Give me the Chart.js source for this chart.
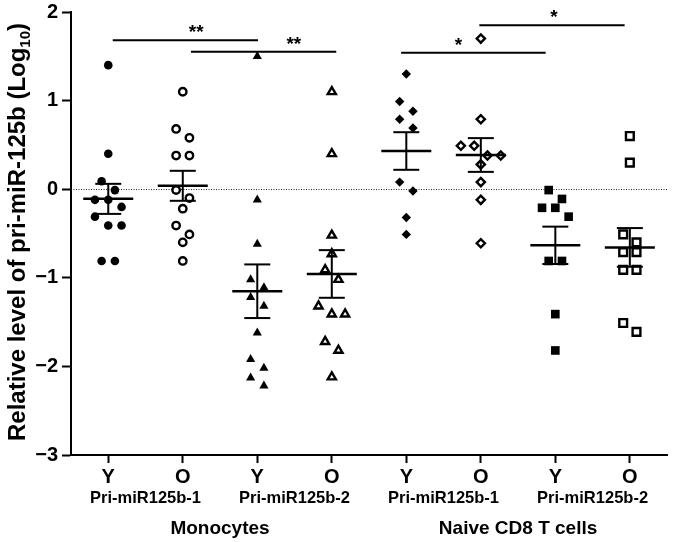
<!DOCTYPE html>
<html>
<head>
<meta charset="utf-8">
<script src="https://cdn.jsdelivr.net/npm/chart.js@4.4.1/dist/chart.umd.min.js"></script>
<style>
  html, body { margin: 0; padding: 0; background: #fff; }
</style>
</head>
<body>
<canvas id="grafico" width="675" height="542"></canvas>
<script>
// categorias e rotulos
const groupLabels = ['Y', 'O', 'Y', 'O', 'Y', 'O', 'Y', 'O'];
const geneLabels = ['Pri-miR125b-1', 'Pri-miR125b-2', 'Pri-miR125b-1', 'Pri-miR125b-2'];
const cellLabels = ['Monocytes', 'Naive CD8 T cells'];
const yTicks = [-3, -2, -1, 0, 1, 2];

// valores (log10)
const monoY1 = [1.4, 0.4, 0.09, -0.01, -0.12, -0.12, -0.2, -0.31, -0.41, -0.41, -0.81, -0.81];
const monoO1 = [1.1, 0.68, 0.58, 0.38, 0.38, -0.01, -0.1, -0.22, -0.41, -0.51, -0.6, -0.81];
const monoY2 = [1.5, -0.12, -0.62, -1.02, -1.11, -1.22, -1.32, -1.62, -1.92, -2.02, -2.13, -2.22];
const monoO2 = [1.1, 0.4, -0.52, -0.73, -0.91, -1.02, -1.32, -1.41, -1.41, -1.72, -1.82, -2.12];
const cd8Y1 = [1.3, 0.99, 0.88, 0.79, 0.69, 0.08, -0.02, -0.32, -0.51];
const cd8O1 = [1.7, 0.79, 0.49, 0.49, 0.38, 0.38, 0.28, 0.08, -0.12, -0.61];
const cd8Y2 = [-0.01, -0.11, -0.21, -0.21, -0.31, -0.81, -0.81, -1.41, -1.82];
const cd8O2 = [0.6, 0.3, -0.51, -0.6, -0.71, -0.71, -0.91, -0.91, -1.51, -1.61];

const series = [monoY1, monoO1, monoY2, monoO2, cd8Y1, cd8O1, cd8Y2, cd8O2];

// comparacoes significativas (posicao em unidades do eixo)
const signif = [
  { from: 1.06, to: 3.01, y: 1.68, label: '**', at: 2.18 },
  { from: 2.11, to: 4.06, y: 1.55, label: '**', at: 3.49 },
  { from: 4.93, to: 6.87, y: 1.54, label: '*', at: 5.70 },
  { from: 5.98, to: 7.93, y: 1.85, label: '*', at: 6.98 }
];

const marcadores = [
  { style: 'circle', filled: true, r: 4.3 },
  { style: 'circle', filled: false, r: 3.7 },
  { style: 'triangle', filled: true, r: 5.3 },
  { style: 'triangle', filled: false, r: 4.7 },
  { style: 'rectRot', filled: true, r: 4.7 },
  { style: 'rectRot', filled: false, r: 4.1 },
  { style: 'rect', filled: true, r: 6.1 },
  { style: 'rect', filled: false, r: 5.5 }
];

const FONTE = 'Liberation Sans, Arial, Helvetica, sans-serif';

const datasets = series.map((vals, i) => ({
  data: vals.map(v => ({ x: i + 1, y: v })),
  pointStyle: marcadores[i].style,
  pointRadius: marcadores[i].r,
  pointHoverRadius: marcadores[i].r,
  pointBackgroundColor: marcadores[i].filled ? '#000' : '#fff',
  pointBorderColor: '#000',
  pointBorderWidth: marcadores[i].filled ? 0 : 2.4,
  showLine: false
}));

// espalha os pontos com valores proximos lado a lado
const swarm = {
  id: 'swarm',
  afterDatasetsUpdate(chart) {
    chart.data.datasets.forEach((ds, i) => {
      const pts = chart.getDatasetMeta(i).data.slice().sort((a, b) => a.y - b.y);
      let row = [];
      const flush = () => {
        row.forEach((p, k) => { p.x += (k - (row.length - 1) / 2) * 13.3; });
        row = [];
      };
      pts.forEach(p => {
        if (row.length && p.y - row[0].y >= 10) flush();
        row.push(p);
      });
      flush();
    });
  }
};

const linhaZero = {
  id: 'linhaZero',
  beforeDatasetsDraw(chart) {
    const { ctx, chartArea, scales: { y } } = chart;
    const py = Math.round(y.getPixelForValue(0)) + 0.5;
    ctx.save();
    ctx.strokeStyle = '#222';
    ctx.lineWidth = 1;
    ctx.setLineDash([1, 1.5]);
    ctx.beginPath();
    ctx.moveTo(chartArea.left, py);
    ctx.lineTo(chartArea.right, py);
    ctx.stroke();
    ctx.restore();
  }
};

function seg(ctx, x1, y1, x2, y2) {
  ctx.beginPath();
  ctx.moveTo(x1, y1);
  ctx.lineTo(x2, y2);
  ctx.stroke();
}

// media +- erro padrao
const mediaErro = {
  id: 'mediaErro',
  afterDatasetsDraw(chart) {
    const { ctx, scales: { x, y } } = chart;
    ctx.save();
    ctx.strokeStyle = '#000';
    series.forEach((vals, i) => {
      const n = vals.length;
      const m = vals.reduce((a, b) => a + b, 0) / n;
      const sd = Math.sqrt(vals.reduce((a, b) => a + (b - m) ** 2, 0) / (n - 1));
      const se = sd / Math.sqrt(n);
      const cx = x.getPixelForValue(i + 1);
      const ym = y.getPixelForValue(m);
      const yt = y.getPixelForValue(m + se);
      const yb = y.getPixelForValue(m - se);
      ctx.lineWidth = 2.5;
      seg(ctx, cx - 25, ym, cx + 25, ym);
      ctx.lineWidth = 2;
      seg(ctx, cx, yt, cx, yb);
      seg(ctx, cx - 13, yt, cx + 13, yt);
      seg(ctx, cx - 13, yb, cx + 13, yb);
    });
    ctx.restore();
  }
};

const significancia = {
  id: 'significancia',
  afterDraw(chart) {
    const { ctx, scales: { x, y } } = chart;
    ctx.save();
    ctx.strokeStyle = '#000';
    ctx.fillStyle = '#000';
    ctx.lineWidth = 2;
    ctx.font = 'bold 19px ' + FONTE;
    ctx.textAlign = 'center';
    ctx.textBaseline = 'alphabetic';
    signif.forEach(s => {
      const py = y.getPixelForValue(s.y);
      seg(ctx, x.getPixelForValue(s.from), py, x.getPixelForValue(s.to), py);
      ctx.fillText(s.label, x.getPixelForValue(s.at), py - 2);
    });
    ctx.restore();
  }
};

// titulo do eixo y com subscrito
const tituloY = {
  id: 'tituloY',
  afterDraw(chart) {
    const { ctx } = chart;
    const partes = ['Relative level of pri-miR-125b (Log', '10', ')'];
    const fg = 'bold 24px ' + FONTE, fp = 'bold 15px ' + FONTE;
    ctx.save();
    ctx.font = fg; const w1 = ctx.measureText(partes[0]).width; const w3 = ctx.measureText(partes[2]).width;
    ctx.font = fp; const w2 = ctx.measureText(partes[1]).width;
    const total = w1 + w2 + w3;
    ctx.translate(25, 232);
    ctx.rotate(-Math.PI / 2);
    ctx.fillStyle = '#000';
    ctx.textBaseline = 'alphabetic';
    ctx.textAlign = 'left';
    let px = -total / 2;
    ctx.font = fg; ctx.fillText(partes[0], px, 0); px += w1;
    ctx.font = fp; ctx.fillText(partes[1], px, 5); px += w2;
    ctx.font = fg; ctx.fillText(partes[2], px, 0);
    ctx.restore();
  }
};

new Chart(document.getElementById('grafico'), {
  type: 'scatter',
  data: { datasets },
  plugins: [swarm, linhaZero, mediaErro, significancia, tituloY],
  options: {
    responsive: false,
    animation: false,
    events: [],
    layout: { padding: { top: 0, right: 4, left: 0, bottom: 0 } },
    plugins: { legend: { display: false }, tooltip: { enabled: false } },
    scales: {
      x: {
        type: 'linear', position: 'bottom', min: 0.5, max: 8.5, weight: 0,
        afterBuildTicks: s => { s.ticks = groupLabels.map((t, i) => ({ value: i + 1 })); },
        afterFit: s => { s.height = 31; },
        ticks: {
          autoSkip: false, maxRotation: 0, padding: 2, color: '#000',
          font: { family: FONTE, size: 20, weight: 'bold' },
          callback: (v) => groupLabels[Math.round(v) - 1]
        },
        grid: { drawOnChartArea: false, tickLength: 8, tickWidth: 2, tickColor: '#000' },
        border: { color: '#000', width: 2 }
      },
      x2: {
        type: 'linear', position: 'bottom', min: 0.5, max: 8.5, weight: 1,
        afterBuildTicks: s => { s.ticks = geneLabels.map((t, i) => ({ value: 1.5 + 2 * i })); },
        afterFit: s => { s.height = 25; },
        ticks: {
          autoSkip: false, maxRotation: 0, padding: 3, color: '#000',
          font: { family: FONTE, size: 16.5, weight: 'bold' },
          callback: (v) => geneLabels[Math.round((v - 1.5) / 2)]
        },
        grid: { display: false, drawTicks: false },
        border: { display: false }
      },
      x3: {
        type: 'linear', position: 'bottom', min: 0.5, max: 8.5, weight: 2,
        afterBuildTicks: s => { s.ticks = cellLabels.map((t, i) => ({ value: 2.5 + 4 * i })); },
        afterFit: s => { s.height = 31; },
        ticks: {
          autoSkip: false, maxRotation: 0, padding: 6, color: '#000',
          font: { family: FONTE, size: 19, weight: 'bold' },
          callback: (v) => cellLabels[Math.round((v - 2.5) / 4)]
        },
        grid: { display: false, drawTicks: false },
        border: { display: false }
      },
      y: {
        type: 'linear', min: -3, max: 2,
        afterBuildTicks: s => { s.ticks = yTicks.map(v => ({ value: v })); },
        afterFit: s => { s.width = 71; s.paddingTop = 12; s.paddingBottom = 0; },
        ticks: {
          padding: 4, color: '#000',
          font: { family: FONTE, size: 20, weight: 'bold' },
          callback: v => v < 0 ? '\u2212' + Math.abs(v) : String(v)
        },
        grid: { drawOnChartArea: false, tickLength: 9, tickWidth: 2, tickColor: '#000' },
        border: { color: '#000', width: 2 }
      }
    }
  }
});
</script>
</body>
</html>
